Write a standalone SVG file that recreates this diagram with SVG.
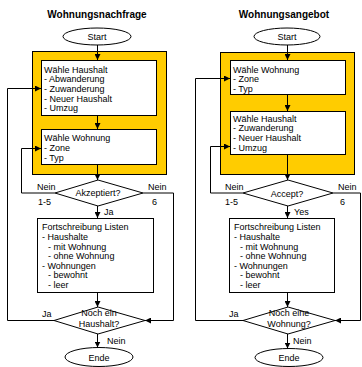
<svg xmlns="http://www.w3.org/2000/svg" width="362" height="367" viewBox="0 0 362 367">
  <defs>
    <marker id="arr" viewBox="0 0 6 6" refX="6" refY="3" markerWidth="6" markerHeight="6" markerUnits="userSpaceOnUse" orient="auto">
      <path d="M0,0 L6,3 L0,6 Z" fill="#000"/>
    </marker>
    <style>
      text { font-family: "Liberation Sans", Arial, sans-serif; font-size: 9px; fill: #000; }
      .title { font-weight: bold; font-size: 10px; text-anchor: middle; }
      .mid { text-anchor: middle; }
      .frame { fill: #ffcc00; stroke: #000; stroke-width: 1; }
      .box { fill: #fff; stroke: #000; stroke-width: 1; }
      .term { fill: #fff; stroke: #000; stroke-width: 1; }
      .flow { fill: none; stroke: #000; stroke-width: 1; marker-end: url(#arr); }
    </style>
  </defs>
  <rect width="362" height="367" fill="#fff"/>

  <!-- Left flowchart: housing demand -->
  <text class="title" x="97" y="18">Wohnungsnachfrage</text>
  <g id="l-start">
    <ellipse class="term" cx="97" cy="36.5" rx="34" ry="8.5"/>
    <text class="mid" x="97" y="40">Start</text>
  </g>
  <g id="l-frame">
    <rect class="frame" x="32.5" y="51.5" width="134" height="123"/>
  </g>
  <g id="l-hh">
    <rect class="box" x="41.5" y="60.5" width="115" height="55"/>
    <text x="44" y="72.5">Wähle Haushalt</text>
    <text x="44" y="82">- Abwanderung</text>
    <text x="44" y="91.5">- Zuwanderung</text>
    <text x="44" y="101.5">- Neuer Haushalt</text>
    <text x="44" y="111">- Umzug</text>
  </g>
  <g id="l-wo">
    <rect class="box" x="41.5" y="129.5" width="115" height="35"/>
    <text x="44" y="140.5">Wähle Wohnung</text>
    <text x="44" y="151">- Zone</text>
    <text x="44" y="161">- Typ</text>
  </g>
  <g id="l-acc">
    <polygon class="box" points="98,180 143,193 98,206 55,193"/>
    <text class="mid" x="98" y="196">Akzeptiert?</text>
  </g>
  <g id="l-upd">
    <rect class="box" x="37.5" y="218.5" width="116" height="74"/>
    <text x="42" y="230">Fortschreibung Listen</text>
    <text x="42" y="240">- Haushalte</text>
    <text x="48" y="249.5">- mit Wohnung</text>
    <text x="48" y="258.5">- ohne Wohnung</text>
    <text x="42" y="268.5">- Wohnungen</text>
    <text x="48" y="278">- bewohnt</text>
    <text x="48" y="288">- leer</text>
  </g>
  <g id="l-more">
    <polygon class="box" points="98,307 145,320.5 98,334 54,320.5"/>
    <text class="mid" x="99" y="316">Noch ein</text>
    <text class="mid" x="99" y="327">Haushalt?</text>
  </g>
  <g id="l-end">
    <ellipse class="term" cx="99" cy="357" rx="34" ry="9.5"/>
    <text class="mid" x="99" y="360.5">Ende</text>
  </g>

  <!-- Right flowchart: housing supply -->
  <text class="title" x="284" y="18">Wohnungsangebot</text>
  <g id="r-start">
    <ellipse class="term" cx="287" cy="36.5" rx="33" ry="8.5"/>
    <text class="mid" x="287" y="40">Start</text>
  </g>
  <g id="r-frame">
    <rect class="frame" x="220.5" y="52.5" width="134" height="122"/>
  </g>
  <g id="r-wo">
    <rect class="box" x="230.5" y="60.5" width="115" height="34"/>
    <text x="233" y="72.5">Wähle Wohnung</text>
    <text x="233" y="82">- Zone</text>
    <text x="233" y="92">- Typ</text>
  </g>
  <g id="r-hh">
    <rect class="box" x="230.5" y="111.5" width="115" height="43"/>
    <text x="233" y="121.5">Wähle Haushalt</text>
    <text x="233" y="131">- Zuwanderung</text>
    <text x="233" y="140.5">- Neuer Haushalt</text>
    <text x="233" y="151">- Umzug</text>
  </g>
  <g id="r-acc">
    <polygon class="box" points="288,180 333,193 288,206 243,193"/>
    <text class="mid" x="287" y="196.5">Accept?</text>
  </g>
  <g id="r-upd">
    <rect class="box" x="229.5" y="218.5" width="105" height="74"/>
    <text x="234" y="230">Fortschreibung Listen</text>
    <text x="234" y="240">- Haushalte</text>
    <text x="240" y="249.5">- mit Wohnung</text>
    <text x="240" y="258.5">- ohne Wohnung</text>
    <text x="234" y="268.5">- Wohnungen</text>
    <text x="240" y="278">- bewohnt</text>
    <text x="240" y="288">- leer</text>
  </g>
  <g id="r-more">
    <polygon class="box" points="288,307 335,320.5 288,334 243,320.5"/>
    <text class="mid" x="289" y="316">Noch eine</text>
    <text class="mid" x="289" y="327">Wohnung?</text>
  </g>
  <g id="r-end">
    <ellipse class="term" cx="289" cy="357.5" rx="34" ry="9"/>
    <text class="mid" x="289" y="361">Ende</text>
  </g>

  <!-- Connectors -->
  <g id="connectors">
    <!-- left -->
    <path class="flow" d="M97.5,45 V60"/>
    <path class="flow" d="M97.5,116 V129"/>
    <path class="flow" d="M97.5,165 V180"/>
    <path class="flow" d="M97.5,206 V218"/>
    <path class="flow" d="M97.5,293 V307"/>
    <path class="flow" d="M97.5,334 V347.5"/>
    <path class="flow" d="M55,193 H21.5 V148.5 H41"/>
    <path class="flow" d="M54,320.5 H7.5 V88.5 H41"/>
    <path class="flow" d="M143,193 H173.5 V320.5 H145"/>
    <!-- right -->
    <path class="flow" d="M287.5,45 V60"/>
    <path class="flow" d="M287.5,95 V111"/>
    <path class="flow" d="M287.5,155 V180"/>
    <path class="flow" d="M287.5,206 V218"/>
    <path class="flow" d="M287.5,293 V307"/>
    <path class="flow" d="M287.5,334 V348.5"/>
    <path class="flow" d="M243,193 H210.5 V146.5 H230"/>
    <path class="flow" d="M243,320.5 H195.5 V78.5 H230"/>
    <path class="flow" d="M333,193 H360.5 V320.5 H335"/>
  </g>

  <!-- Branch labels -->
  <text x="37" y="190">Nein</text>
  <text x="38" y="205">1-5</text>
  <text x="148" y="190">Nein</text>
  <text x="152" y="205">6</text>
  <text x="104" y="215">Ja</text>
  <text x="42" y="317">Ja</text>
  <text x="107" y="344">Nein</text>

  <text x="225" y="190">Nein</text>
  <text x="225" y="205">1-5</text>
  <text x="338" y="190">Nein</text>
  <text x="340" y="205">6</text>
  <text x="294" y="215">Yes</text>
  <text x="229" y="317">Ja</text>
  <text x="293" y="344">Nein</text>
</svg>
